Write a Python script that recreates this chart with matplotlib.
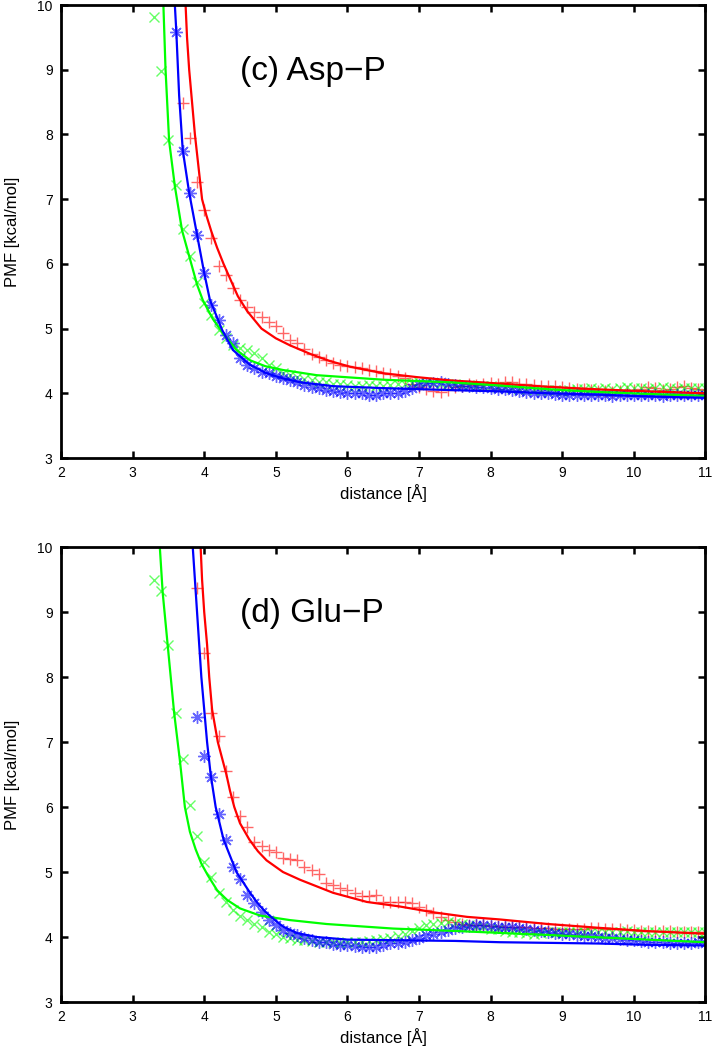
import matplotlib
matplotlib.use('Agg')
import matplotlib.pyplot as plt
import numpy as np

plt.rcParams['font.family'] = ['Liberation Sans', 'DejaVu Sans']

# ---- panel (c) Asp-P : simulation points (0.1 A grid) ----
c_red_x0, c_blue_x0, c_green_x0 = 3.7, 3.6, 3.3
c_red_y = [8.48, 7.95, 7.27, 6.84, 6.40, 5.97, 5.83, 5.62, 5.44, 5.33,
           5.26, 5.18, 5.10, 5.04, 4.93, 4.82, 4.78, 4.68, 4.61, 4.56,
           4.51, 4.47, 4.44, 4.42, 4.40, 4.39, 4.36, 4.34, 4.31, 4.30,
           4.27, 4.23, 4.15, 4.10, 4.06, 4.03, 4.02, 4.05, 4.10, 4.12,
           4.14, 4.13, 4.15, 4.16, 4.15, 4.17, 4.18, 4.15, 4.14, 4.13,
           4.12, 4.12, 4.12, 4.10, 4.08, 4.07, 4.06, 4.05, 4.04, 4.03,
           4.02, 4.03, 4.04, 4.05, 4.06, 4.10, 4.08, 4.05, 4.06, 4.10,
           4.12, 4.08, 4.06, 4.05]
c_blue_y = [9.58, 7.75, 7.10, 6.45, 5.86, 5.36, 5.13, 4.90, 4.78, 4.55,
            4.44, 4.39, 4.33, 4.31, 4.26, 4.23, 4.20, 4.17, 4.13, 4.10,
            4.08, 4.05, 4.03, 4.02, 4.01, 4.00, 4.00, 3.97, 3.98, 4.00,
            4.00, 4.01, 4.03, 4.08, 4.13, 4.16, 4.16, 4.17, 4.15, 4.13,
            4.12, 4.11, 4.10, 4.10, 4.08, 4.07, 4.06, 4.05, 4.04, 4.02,
            4.01, 4.00, 4.00, 3.99, 3.98, 3.97, 3.97, 3.98, 3.97, 3.97,
            3.97, 3.96, 3.97, 3.98, 3.97, 3.97, 3.98, 3.97, 3.96, 3.97,
            3.97, 3.98, 3.97, 3.97, 3.97]
c_green_y = [9.82, 8.98, 7.92, 7.22, 6.54, 6.12, 5.72, 5.40, 5.21, 4.98,
             4.85, 4.74, 4.70, 4.67, 4.62, 4.54, 4.44, 4.39, 4.31, 4.28,
             4.25, 4.22, 4.20, 4.18, 4.17, 4.15, 4.14, 4.13, 4.12, 4.12,
             4.13, 4.12, 4.12, 4.13, 4.14, 4.15, 4.16, 4.17, 4.17, 4.16,
             4.15, 4.15, 4.14, 4.13, 4.13, 4.12, 4.12, 4.11, 4.10, 4.09,
             4.08, 4.07, 4.06, 4.05, 4.05, 4.05, 4.05, 4.04, 4.05, 4.06,
             4.07, 4.08, 4.07, 4.08, 4.07, 4.08, 4.09, 4.08, 4.08, 4.07,
             4.08, 4.09, 4.08, 4.07, 4.08, 4.08, 4.08, 4.08]

# fitted curves (c)
c_red_fit_x = [3.74, 3.76, 3.79, 3.83, 3.87, 3.92, 3.97, 4.03, 4.10, 4.18,
               4.27, 4.37, 4.47, 4.60, 4.80, 5.00, 5.20, 5.50, 5.75, 6.04,
               6.50, 6.97, 7.43, 8.13, 8.80, 9.53, 10.2, 11.0]
c_red_fit_y = [10.0, 9.50, 9.00, 8.50, 8.00, 7.50, 7.00, 6.75, 6.50, 6.25,
               6.00, 5.75, 5.50, 5.27, 5.00, 4.85, 4.74, 4.60, 4.50, 4.41,
               4.31, 4.25, 4.20, 4.15, 4.10, 4.06, 4.03, 4.00]
c_blue_fit_x = [3.59, 3.61, 3.65, 3.70, 3.79, 3.90, 4.00, 4.08, 4.17, 4.25,
                4.40, 4.64, 4.87, 5.10, 5.34, 5.80, 6.50, 7.43, 8.13, 8.83,
                9.50, 10.2, 11.0]
c_blue_fit_y = [10.0, 9.60, 8.60, 7.76, 7.10, 6.45, 5.86, 5.44, 5.20, 4.98,
                4.67, 4.44, 4.31, 4.23, 4.17, 4.11, 4.08, 4.05, 4.03, 4.00,
                3.98, 3.95, 3.93]
c_green_fit_x = [3.43, 3.46, 3.51, 3.59, 3.69, 3.77, 3.90, 3.98, 4.12, 4.26,
                 4.45, 4.64, 4.85, 5.10, 5.57, 6.50, 7.43, 8.13, 8.83, 9.50,
                 10.2, 11.0]
c_green_fit_y = [10.0, 9.00, 7.90, 7.20, 6.52, 6.20, 5.68, 5.44, 5.15, 4.93,
                 4.67, 4.51, 4.42, 4.36, 4.28, 4.21, 4.17, 4.12, 4.06, 4.02,
                 3.99, 3.96]

# ---- panel (d) Glu-P ----
d_red_x0, d_blue_x0, d_green_x0 = 3.9, 3.9, 3.3
d_red_y = [9.37, 8.37, 7.45, 7.10, 6.56, 6.15, 5.86, 5.69, 5.46, 5.40,
           5.34, 5.31, 5.22, 5.20, 5.18, 5.08, 5.03, 4.97, 4.83, 4.80,
           4.75, 4.72, 4.68, 4.63, 4.63, 4.65, 4.54, 4.54, 4.54, 4.54,
           4.52, 4.46, 4.42, 4.37, 4.31, 4.26, 4.23, 4.20, 4.19, 4.18,
           4.18, 4.17, 4.17, 4.16, 4.16, 4.15, 4.15, 4.14, 4.14, 4.14,
           4.13, 4.13, 4.13, 4.13, 4.13, 4.14, 4.14, 4.13, 4.12, 4.12,
           4.11, 4.11, 4.10, 4.10, 4.10, 4.09, 4.09, 4.08, 4.08, 4.08,
           4.08, 4.08]
d_blue_y = [7.38, 6.78, 6.46, 5.89, 5.49, 5.08, 4.89, 4.65, 4.52, 4.38,
            4.26, 4.18, 4.11, 4.06, 4.03, 3.98, 3.95, 3.92, 3.92, 3.90,
            3.88, 3.87, 3.86, 3.85, 3.85, 3.85, 3.88, 3.91, 3.91, 3.92,
            3.95, 3.98, 4.03, 4.05, 4.08, 4.11, 4.14, 4.15, 4.17, 4.18,
            4.18, 4.17, 4.16, 4.16, 4.15, 4.14, 4.13, 4.11, 4.10, 4.08,
            4.06, 4.05, 4.04, 4.03, 4.02, 4.01, 4.00, 3.99, 3.98, 3.97,
            3.96, 3.95, 3.94, 3.93, 3.92, 3.92, 3.91, 3.91, 3.91, 3.91,
            3.92, 3.91]
d_green_y = [9.49, 9.32, 8.49, 7.45, 6.74, 6.03, 5.55, 5.15, 4.92, 4.68,
             4.54, 4.42, 4.33, 4.26, 4.20, 4.15, 4.08, 4.04, 4.00, 3.98,
             3.96, 3.95, 3.94, 3.93, 3.92, 3.92, 3.91, 3.92, 3.93, 3.92,
             3.94, 3.95, 3.97, 3.98, 4.02, 4.05, 4.10, 4.14, 4.18, 4.20,
             4.22, 4.23, 4.22, 4.20, 4.18, 4.16, 4.15, 4.13, 4.12, 4.10,
             4.08, 4.07, 4.06, 4.05, 4.06, 4.07, 4.08, 4.08, 4.07, 4.08,
             4.08, 4.07, 4.08, 4.08, 4.07, 4.08, 4.09, 4.08, 4.08, 4.07,
             4.08, 4.08, 4.07, 4.08, 4.08, 4.08, 4.08, 4.08]

d_red_fit_x = [3.95, 3.97, 4.00, 4.04, 4.07, 4.11, 4.15, 4.19, 4.25, 4.31,
               4.36, 4.42, 4.50, 4.63, 4.75, 4.87, 5.10, 5.34, 5.80, 6.27,
               6.73, 7.20, 7.67, 8.13, 8.80, 9.53, 10.2, 11.0]
d_red_fit_y = [10.0, 9.50, 9.00, 8.50, 8.00, 7.50, 7.25, 7.00, 6.75, 6.50,
               6.25, 6.00, 5.75, 5.50, 5.32, 5.18, 5.00, 4.88, 4.68, 4.54,
               4.47, 4.38, 4.31, 4.27, 4.20, 4.14, 4.09, 4.05]
d_blue_fit_x = [3.84, 3.90, 3.96, 4.04, 4.09, 4.16, 4.27, 4.45, 4.64, 4.76,
                4.87, 5.00, 5.10, 5.30, 5.57, 6.00, 6.73, 7.50, 8.13, 8.83,
                9.50, 10.2, 11.0]
d_blue_fit_y = [10.0, 9.00, 8.00, 7.00, 6.50, 6.00, 5.50, 5.00, 4.68, 4.50,
                4.37, 4.25, 4.16, 4.06, 4.00, 3.96, 3.95, 3.94, 3.92, 3.91,
                3.90, 3.88, 3.87]
d_green_fit_x = [3.38, 3.42, 3.49, 3.58, 3.66, 3.73, 3.80, 3.88, 3.96, 4.05,
                 4.18, 4.32, 4.50, 4.78, 5.20, 5.71, 6.64, 7.57, 8.83, 9.80,
                 11.0]
d_green_fit_y = [10.0, 9.30, 8.49, 7.45, 6.72, 6.00, 5.62, 5.35, 5.13, 4.95,
                 4.72, 4.57, 4.44, 4.33, 4.26, 4.20, 4.13, 4.09, 4.03, 3.98,
                 3.92]

RED, GREEN, BLUE = '#ff0000', '#00ff00', '#0000ff'
asterisk = (8, 2, 0)


def grid(x0, ys):
    return np.round(x0 + 0.1 * np.arange(len(ys)), 2)


def panel(ax, title, pts, fits):
    for (x0, ys, col, mk, ms) in pts:
        ax.plot(grid(x0, ys), ys, linestyle='none', marker=mk, ms=ms,
                mec=col, mfc='none', mew=1.0, alpha=0.6, clip_on=True)
    for (fx, fy, col) in fits:
        ax.plot(fx, fy, color=col, lw=1.6)
    ax.set_xlim(2, 11)
    ax.set_ylim(3, 10)
    ax.set_xticks(range(2, 12))
    ax.set_yticks(range(3, 11))
    ax.tick_params(direction='in', length=5, width=1.8, top=True, right=True,
                   labelsize=10, pad=6)
    for s in ax.spines.values():
        s.set_linewidth(2)
    ax.set_xlabel('distance [Å]', fontsize=12, labelpad=3)
    ax.set_ylabel('PMF [kcal/mol]', fontsize=12)
    ax.yaxis.set_label_coords(-0.064, 0.5)
    ax.text(4.5, 8.97, title, fontsize=24, va='center', ha='left')


fig = plt.figure(figsize=(7.15, 10.5), dpi=100)
ax1 = fig.add_axes([0.0853, 0.5638, 0.9014, 0.4314])
ax2 = fig.add_axes([0.0853, 0.0457, 0.9014, 0.4333])

panel(ax1, '(c) Asp\u2212P',
      [(c_red_x0, c_red_y, RED, '+', 9), (c_green_x0, c_green_y, GREEN, 'x', 7),
       (c_blue_x0, c_blue_y, BLUE, asterisk, 9)],
      [(c_red_fit_x, c_red_fit_y, RED), (c_green_fit_x, c_green_fit_y, GREEN),
       (c_blue_fit_x, c_blue_fit_y, BLUE)])
panel(ax2, '(d) Glu\u2212P',
      [(d_red_x0, d_red_y, RED, '+', 9), (d_green_x0, d_green_y, GREEN, 'x', 7),
       (d_blue_x0, d_blue_y, BLUE, asterisk, 9)],
      [(d_red_fit_x, d_red_fit_y, RED), (d_green_fit_x, d_green_fit_y, GREEN),
       (d_blue_fit_x, d_blue_fit_y, BLUE)])

fig.savefig('out.png', dpi=100)
